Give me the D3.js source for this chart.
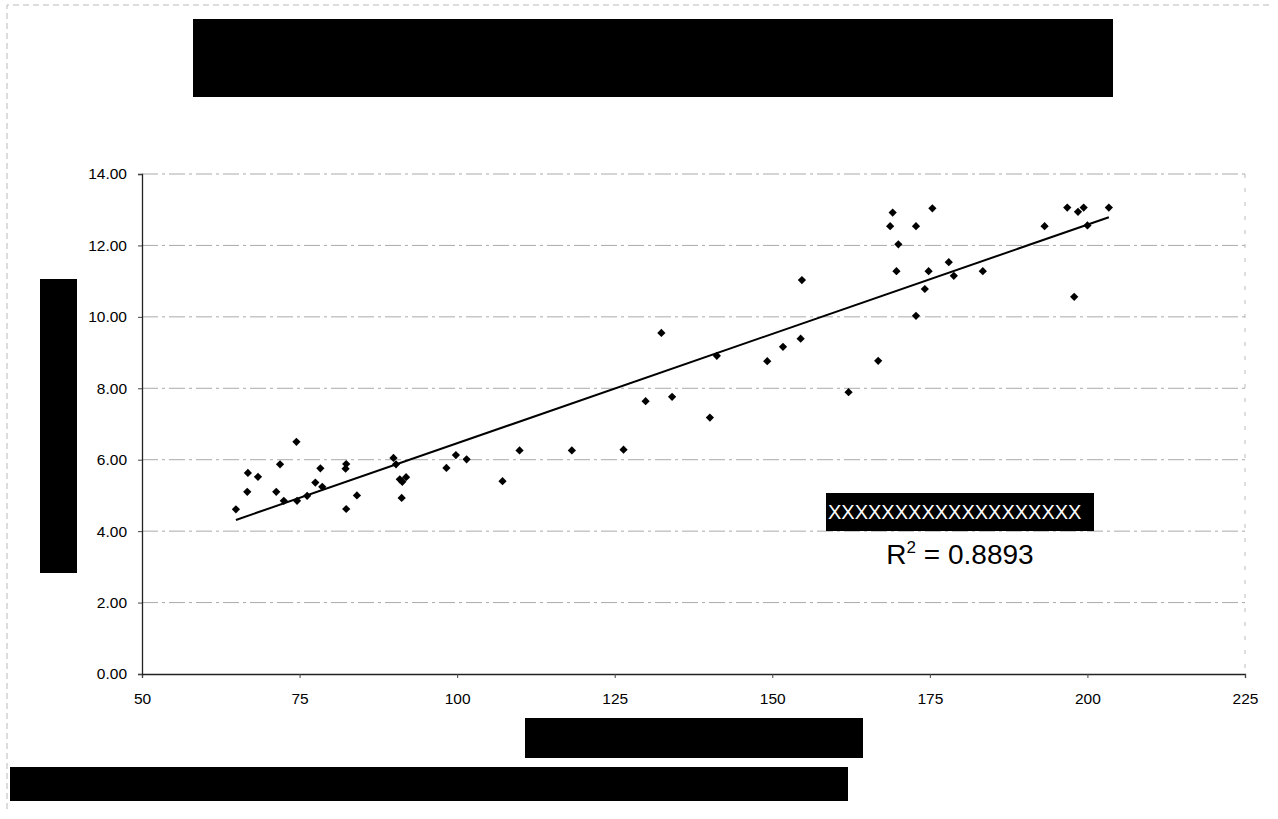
<!DOCTYPE html>
<html>
<head>
<meta charset="utf-8">
<script src="https://cdn.jsdelivr.net/npm/d3@7"></script>
<style>
  body { margin: 0; background: #fff; }
  svg { display: block; font-family: 'Liberation Sans', Arial, sans-serif; }
</style>
</head>
<body>
<div class="canvas"></div>
<script>
// values (x, y)
const xValues = [64.9, 66.8, 66.7, 68.4, 71.3, 71.9, 72.5, 74.5, 74.6, 76.2,
  77.5, 78.3, 78.6, 82.3, 82.4, 82.4, 84.1, 89.9, 90.3, 90.9,
  91.3, 91.9, 91.2, 98.3, 99.8, 101.5, 107.2, 109.9, 118.2, 126.4,
  129.9, 132.4, 134.1, 140.1, 141.2, 149.2, 151.7, 154.5, 154.7, 162.1,
  166.8, 168.7, 169.1, 170.0, 169.7, 172.8, 172.8, 174.2, 174.8, 175.4,
  178.0, 178.8, 183.4, 193.2, 196.8, 197.9, 198.5, 199.4, 200.0, 203.4]
const yValues = [4.61, 5.63, 5.10, 5.52, 5.10, 5.87, 4.85, 6.50, 4.85, 4.99,
  5.36, 5.76, 5.24, 5.75, 5.88, 4.62, 5.00, 6.05, 5.87, 5.45,
  5.38, 5.51, 4.93, 5.77, 6.13, 6.01, 5.40, 6.26, 6.26, 6.28,
  7.64, 9.55, 7.76, 7.18, 8.91, 8.76, 9.16, 9.39, 11.03, 7.89,
  8.77, 12.54, 12.92, 12.03, 11.28, 12.54, 10.03, 10.78, 11.28, 13.04,
  11.53, 11.15, 11.28, 12.54, 13.06, 10.56, 12.94, 13.06, 12.56, 13.06]
const xTicks = [50, 75, 100, 125, 150, 175, 200, 225]
const yTicks = [0, 2, 4, 6, 8, 10, 12, 14]
const legendText = 'XXXXXXXXXXXXXXXXXXX'
const r2Label = '0.8893'

const width = 1278
const height = 819
const margin = { top: 174, right: 33, bottom: 145, left: 142 }
const graphWidth = width - margin.left - margin.right
const graphHeight = height - margin.top - margin.bottom

const svg = d3.select('.canvas').append('svg')
  .attr('width', width)
  .attr('height', height)

// faint scanned chart border
svg.append('path')
  .attr('d', `M7,${height - 10}V5H${width - 5}`)
  .attr('fill', 'none')
  .attr('stroke', '#bbb')
  .attr('stroke-dasharray', '6 4')

// redacted blocks
const blocks = [
  [193, 19, 920, 78],
  [40, 279, 37, 294],
  [525, 718, 338, 40],
  [10, 767, 838, 34]
]
svg.selectAll('rect.block')
  .data(blocks)
  .enter().append('rect')
  .attr('class', 'block')
  .attr('x', d => d[0]).attr('y', d => d[1])
  .attr('width', d => d[2]).attr('height', d => d[3])
  .attr('fill', '#000')

const graph = svg.append('g')
  .attr('transform', `translate(${margin.left}, ${margin.top})`)

const x = d3.scaleLinear()
  .domain([50, 225])
  .range([0, graphWidth])

const y = d3.scaleLinear()
  .domain([0, 14])
  .range([graphHeight, 0])

// gridlines
graph.append('g')
  .selectAll('line')
  .data(yTicks.slice(1))
  .enter().append('line')
  .attr('x1', 0).attr('x2', graphWidth)
  .attr('y1', d => y(d)).attr('y2', d => y(d))
  .attr('stroke', '#aaa')
  .attr('stroke-width', 1)
  .attr('stroke-dasharray', '16 4 3 4')

// right edge of plot area
graph.append('line')
  .attr('x1', graphWidth).attr('x2', graphWidth)
  .attr('y1', 0).attr('y2', graphHeight)
  .attr('stroke', '#bbb')
  .attr('stroke-dasharray', '4 10')

// axes
const xAxis = d3.axisBottom(x)
  .tickValues(xTicks)
  .tickSize(4)
  .tickPadding(15)
const yAxis = d3.axisLeft(y)
  .tickValues(yTicks)
  .tickSize(4)
  .tickPadding(11)
  .tickFormat(d3.format('.2f'))

graph.append('g')
  .attr('transform', `translate(0, ${graphHeight})`)
  .call(xAxis)
graph.append('g').call(yAxis)

graph.selectAll('.domain').attr('stroke', '#222').attr('stroke-width', 1.3)
graph.selectAll('.tick line').attr('stroke', '#444')
graph.selectAll('.tick text')
  .attr('font-size', 15.5)
  .attr('font-family', "'Liberation Sans', Arial, sans-serif")
  .attr('fill', '#000')

// linear trendline from least squares
const mx = d3.mean(xValues)
const my = d3.mean(yValues)
const sxy = d3.sum(xValues, (v, i) => (v - mx) * (yValues[i] - my))
const sxx = d3.sum(xValues, v => (v - mx) ** 2)
const slope = sxy / sxx
const intercept = my - slope * mx
const xExt = d3.extent(xValues)

graph.append('line')
  .attr('x1', x(xExt[0])).attr('y1', y(intercept + slope * xExt[0]))
  .attr('x2', x(xExt[1])).attr('y2', y(intercept + slope * xExt[1]))
  .attr('stroke', '#000')
  .attr('stroke-width', 2)

// points
const points = xValues.map((v, i) => ({ x: v, y: yValues[i] }))
graph.selectAll('path.pt')
  .data(points)
  .enter().append('path')
  .attr('class', 'pt')
  .attr('d', d3.symbol(d3.symbolSquare, 34))
  .attr('transform', d => `translate(${x(d.x)}, ${y(d.y)}) rotate(45)`)
  .attr('fill', '#000')

// trendline label
const label = svg.append('g')
label.append('rect')
  .attr('x', 826).attr('y', 493)
  .attr('width', 268).attr('height', 38)
  .attr('fill', '#000')
label.append('text')
  .attr('x', 828).attr('y', 519)
  .attr('fill', '#fff')
  .attr('font-size', 20)
  .text(legendText)
const r2 = label.append('text')
  .attr('x', 960).attr('y', 564)
  .attr('text-anchor', 'middle')
  .attr('font-size', 28)
  .attr('fill', '#000')
r2.append('tspan').text('R')
r2.append('tspan').attr('dy', -11).attr('font-size', 17).text('2')
r2.append('tspan').attr('dy', 11).text(' = ' + r2Label)
</script>
</body>
</html>
